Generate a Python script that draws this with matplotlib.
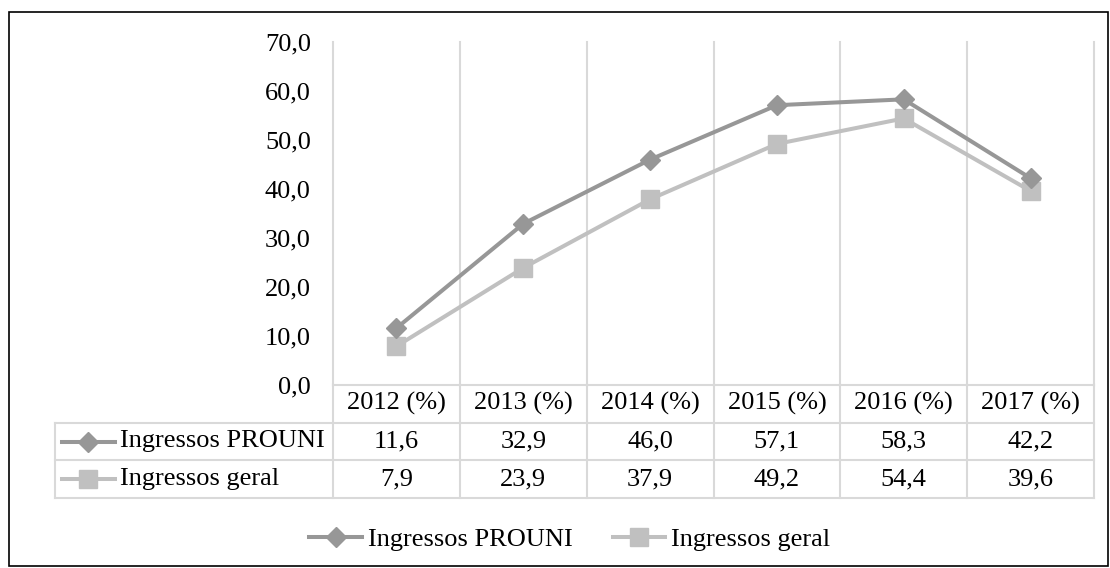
import matplotlib
matplotlib.use("Agg")
import matplotlib.pyplot as plt
from matplotlib.patches import Rectangle

plt.rcParams["font.family"] = ["Liberation Serif", "DejaVu Serif"]

years = ["2012 (%)", "2013 (%)", "2014 (%)", "2015 (%)", "2016 (%)", "2017 (%)"]
prouni = [11.6, 32.9, 46.0, 57.1, 58.3, 42.2]
geral = [7.9, 23.9, 37.9, 49.2, 54.4, 39.6]
series_names = ["Ingressos PROUNI", "Ingressos geral"]
y_ticks = [0, 10, 20, 30, 40, 50, 60, 70]

W, H = 1110, 568
FS = 19
DARK = "#979797"
LIGHT = "#c0c0c0"
GRID = "#d9d9d9"
LW = 2.9


def fx(p):
    return p / W


def fy(p):
    return 1 - p / H


def fmt(v):
    return f"{v:.1f}".replace(".", ",")


def main():
    fig = plt.figure(figsize=(W / 100, H / 100), dpi=100)

    # outer frame
    fig.patches.append(Rectangle((fx(9), fy(566)), fx(1108) - fx(9), fy(12) - fy(566),
                                 transform=fig.transFigure, fill=False,
                                 edgecolor="black", linewidth=1.2))

    left, right, top, bottom = 333, 1094, 42, 385
    ax = fig.add_axes([fx(left), fy(bottom), fx(right) - fx(left), fy(top) - fy(bottom)])
    x = list(range(len(years)))
    l1, = ax.plot(x, prouni, color=DARK, lw=LW, marker="D", ms=10.5, zorder=4)
    l2, = ax.plot(x, geral, color=LIGHT, lw=LW, marker="s", ms=12.5, zorder=3)
    ax.set_xlim(-0.5, len(years) - 0.5)
    ax.set_ylim(0, 70)
    ax.set_yticks(y_ticks)
    ax.set_yticklabels([fmt(v) for v in y_ticks], fontsize=FS)
    ax.tick_params(axis="y", length=0, pad=16)
    ax.set_xticks([])
    for s in ax.spines.values():
        s.set_visible(False)
    for i in range(len(years) + 1):
        ax.axvline(i - 0.5, color=GRID, lw=1.5, zorder=1, clip_on=False)

    # data table
    t_bottom = 498
    tab = fig.add_axes([fx(left), fy(t_bottom), fx(right) - fx(left), fy(bottom) - fy(t_bottom)])
    tab.set_xlim(-0.5, len(years) - 0.5)
    tab.set_ylim(3, 0)
    tab.axis("off")
    colw = (right - left) / len(years)

    def xd(p):
        return -0.5 + (p - left) / colw

    lab_left = xd(55)
    for i in range(len(years) + 1):
        tab.plot([i - 0.5, i - 0.5], [0, 3], color=GRID, lw=1.5, clip_on=False)
    tab.plot([lab_left, lab_left], [1, 3], color=GRID, lw=1.5, clip_on=False)
    tab.plot([-0.5, len(years) - 0.5], [0, 0], color=GRID, lw=1.5, clip_on=False)
    for r in (1, 2, 3):
        tab.plot([lab_left, len(years) - 0.5], [r, r], color=GRID, lw=1.5, clip_on=False)

    for i, y in enumerate(years):
        tab.text(i, 0.5, y, ha="center", va="center", fontsize=FS)
    rows = [(series_names[0], prouni, DARK, "D", 10.5), (series_names[1], geral, LIGHT, "s", 12.5)]
    for r, (name, vals, col, mk, ms) in enumerate(rows, start=1):
        yc = r + 0.5
        tab.plot([xd(62), xd(115)], [yc, yc], color=col, lw=LW, clip_on=False)
        tab.plot([xd(88)], [yc], color=col, marker=mk, ms=ms, clip_on=False)
        tab.text(xd(120), yc, name, ha="left", va="center", fontsize=FS)
        for i, v in enumerate(vals):
            tab.text(i, yc, fmt(v), ha="center", va="center", fontsize=FS)

    fig.legend([l1, l2], series_names, loc="center", bbox_to_anchor=(fx(570), fy(539)),
               ncol=2, frameon=False, fontsize=FS, handlelength=2.0,
               handletextpad=0.23, columnspacing=1.5)

    fig.savefig("out.png", dpi=100)
    plt.close(fig)


if __name__ == "__main__":
    main()
